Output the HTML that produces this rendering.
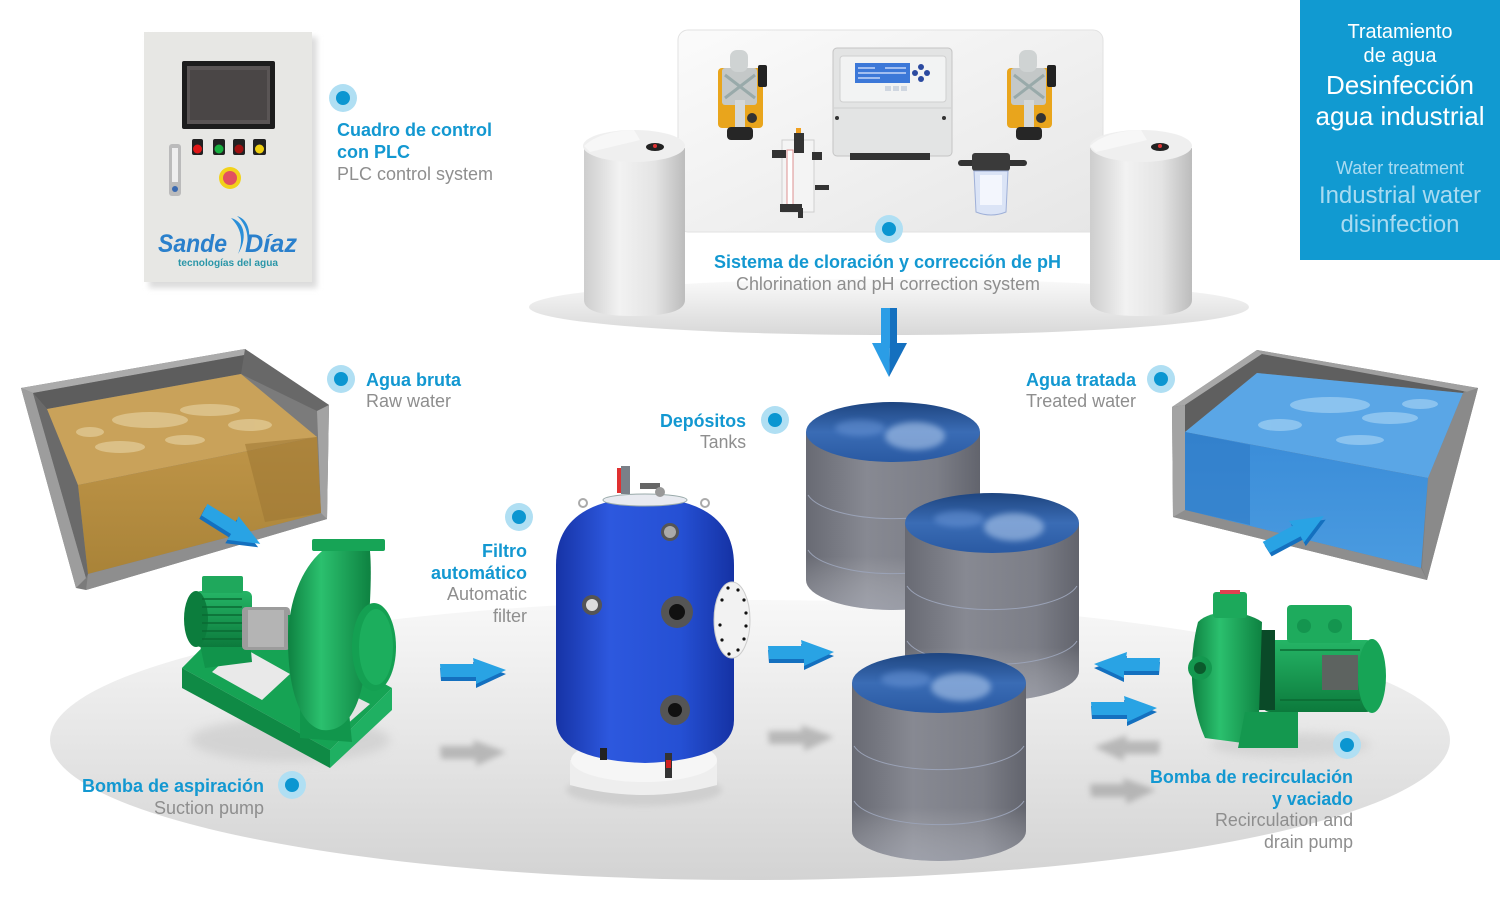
<!DOCTYPE html>
<html><head><meta charset="utf-8"><style>
html,body{margin:0;padding:0;background:#fff;}
svg{display:block;}
text{font-family:"Liberation Sans",Arial,sans-serif;}
.b{font-weight:bold;fill:#1398d1;font-size:18px;}
.g{fill:#8e8e8e;font-size:18px;}
</style></head><body>
<svg width="1500" height="900" viewBox="0 0 1500 900" xmlns="http://www.w3.org/2000/svg">
<defs>
 <linearGradient id="floor" x1="0" y1="0" x2="0" y2="1">
  <stop offset="0" stop-color="#f8f8f8"/><stop offset="0.5" stop-color="#e6e6e6"/><stop offset="1" stop-color="#d3d3d3"/>
 </linearGradient>
 <linearGradient id="fl2" x1="0" y1="0" x2="0" y2="1">
  <stop offset="0" stop-color="#fafafa"/><stop offset="1" stop-color="#d8d8d8"/>
 </linearGradient>
 <linearGradient id="panelG" x1="0" y1="0" x2="1" y2="1">
  <stop offset="0" stop-color="#fbfbfb"/><stop offset="1" stop-color="#e6e6e6"/>
 </linearGradient>
 <linearGradient id="chem" x1="0" y1="0" x2="1" y2="0">
  <stop offset="0" stop-color="#cdcdcd"/><stop offset="0.35" stop-color="#f2f2f2"/><stop offset="0.7" stop-color="#e4e4e4"/><stop offset="1" stop-color="#bcbcbc"/>
 </linearGradient>
 <linearGradient id="tankB" x1="0" y1="0" x2="1" y2="0">
  <stop offset="0" stop-color="#686a73"/><stop offset="0.35" stop-color="#878992"/><stop offset="0.75" stop-color="#7c7e87"/><stop offset="1" stop-color="#62646d"/>
 </linearGradient>
 <linearGradient id="tankV" x1="0" y1="0" x2="0" y2="1">
  <stop offset="0" stop-color="#000" stop-opacity="0"/><stop offset="0.7" stop-color="#fff" stop-opacity="0"/><stop offset="1" stop-color="#c8ccd8" stop-opacity="0.35"/>
 </linearGradient>
 <linearGradient id="wTop" x1="0" y1="0" x2="0" y2="1">
  <stop offset="0" stop-color="#1e4580"/><stop offset="0.5" stop-color="#3a6cb5"/><stop offset="1" stop-color="#2a5aa3"/>
 </linearGradient>
 <linearGradient id="filt" x1="0" y1="0" x2="1" y2="0">
  <stop offset="0" stop-color="#1633a6"/><stop offset="0.3" stop-color="#2d58de"/><stop offset="0.7" stop-color="#2550d4"/><stop offset="1" stop-color="#1532a4"/>
 </linearGradient>
 <linearGradient id="grn" x1="0" y1="0" x2="0" y2="1">
  <stop offset="0" stop-color="#25b566"/><stop offset="1" stop-color="#0c7a3c"/>
 </linearGradient>
 <linearGradient id="grnH" x1="0" y1="0" x2="1" y2="0">
  <stop offset="0" stop-color="#0e8241"/><stop offset="0.4" stop-color="#2bc06e"/><stop offset="1" stop-color="#0e8241"/>
 </linearGradient>
 <linearGradient id="raw" x1="0" y1="0" x2="0" y2="1">
  <stop offset="0" stop-color="#bf9548"/><stop offset="1" stop-color="#a98338"/>
 </linearGradient>
 <linearGradient id="blueW" x1="0" y1="0" x2="0" y2="1">
  <stop offset="0" stop-color="#3a8cd8"/><stop offset="1" stop-color="#4a9be0"/>
 </linearGradient>
 <filter id="bl" x="-30%" y="-60%" width="160%" height="220%"><feGaussianBlur stdDeviation="3"/></filter>
 <filter id="bl2" x="-30%" y="-60%" width="160%" height="220%"><feGaussianBlur stdDeviation="5"/></filter>
 <g id="ar">
  <path d="M0,9 L34,9 L33,3 L66,15 L36,29 L36,22 L1,22 Z" fill="#1470bf"/>
  <path d="M0,5 L34,5 L33,-1 L66,11 L36,25 L36,18 L1,18 Z" fill="#29a3e4"/>
 </g>
 <g id="arS">
  <path d="M0,5 L34,5 L33,-1 L66,11 L36,25 L36,18 L1,18 Z" fill="#9a9a9a"/>
 </g>
</defs>

<rect width="1500" height="900" fill="#fff"/>

<!-- main floor -->
<ellipse cx="750" cy="740" rx="700" ry="140" fill="url(#floor)"/>

<!-- top-right blue box -->
<rect x="1300" y="0" width="200" height="260" fill="#119ad1"/>
<g text-anchor="middle" fill="#fff">
 <text x="1400" y="38" font-size="20" textLength="105">Tratamiento</text>
 <text x="1400" y="62" font-size="20" textLength="73">de agua</text>
 <text x="1400" y="94" font-size="26" textLength="148">Desinfección</text>
 <text x="1400" y="125" font-size="26" textLength="169">agua industrial</text>
 <text x="1400" y="174" font-size="18" fill="#a9dbf1" textLength="128">Water treatment</text>
 <text x="1400" y="203" font-size="24" fill="#a9dbf1" textLength="162">Industrial water</text>
 <text x="1400" y="232" font-size="24" fill="#a9dbf1" textLength="119">disinfection</text>
</g>

<!-- control panel -->
<rect x="149" y="37" width="168" height="251" fill="#dcdcdc" filter="url(#bl)"/>
<rect x="144" y="32" width="168" height="250" fill="#e7e7e4"/>
<rect x="182" y="61" width="93" height="68" fill="#1d1d1d" rx="2"/>
<rect x="187" y="66" width="83" height="58" fill="#5a5555"/>
<rect x="190" y="70" width="77" height="50" fill="#4a4646"/>
<g>
 <rect x="192" y="139" width="11" height="16" fill="#222" rx="2"/><circle cx="197.5" cy="149" r="4.5" fill="#e01818"/>
 <rect x="213" y="139" width="12" height="16" fill="#222" rx="2"/><circle cx="219" cy="149" r="4.5" fill="#18b040"/>
 <rect x="233" y="139" width="12" height="16" fill="#222" rx="2"/><circle cx="239" cy="149" r="4.5" fill="#a01010"/>
 <rect x="253" y="139" width="13" height="16" fill="#222" rx="2"/><circle cx="259.5" cy="149" r="4.5" fill="#f0d010"/>
</g>
<rect x="169" y="144" width="12" height="52" fill="#bbb" rx="3"/>
<rect x="172" y="148" width="6" height="34" fill="#eee"/>
<circle cx="175" cy="189" r="3" fill="#3a6ab0"/>
<circle cx="230" cy="178" r="11" fill="#f2d21a"/>
<circle cx="230" cy="178" r="7" fill="#e25060"/>
<path d="M231,218 C246,222 247,240 238,254 C244,240 241,228 231,218Z" fill="#2a8fd8"/>
<path d="M237,216 C250,220 252,236 246,250 C250,236 246,224 237,216Z" fill="#2a8fd8"/>
<text x="158" y="252" font-size="25" font-weight="bold" font-style="italic" fill="#2a80cc" textLength="69" lengthAdjust="spacingAndGlyphs">Sande</text>
<text x="245" y="252" font-size="25" font-weight="bold" font-style="italic" fill="#2a80cc" textLength="52" lengthAdjust="spacingAndGlyphs">Díaz</text>
<text x="178" y="266" font-size="10" font-weight="bold" fill="#2a96a8" textLength="100" lengthAdjust="spacingAndGlyphs">tecnologías del agua</text>

<!-- control label -->
<circle cx="343" cy="98" r="14" fill="#b0dff3"/><circle cx="343" cy="98" r="7" fill="#0b96d1"/>
<text class="b" x="337" y="136" textLength="155" lengthAdjust="spacingAndGlyphs">Cuadro de control</text>
<text class="b" x="337" y="158" textLength="73" lengthAdjust="spacingAndGlyphs">con PLC</text>
<text class="g" x="337" y="180" textLength="156" lengthAdjust="spacingAndGlyphs">PLC control system</text>

<!-- chlorination area -->
<ellipse cx="889" cy="307" rx="360" ry="28" fill="url(#fl2)"/>
<rect x="678" y="30" width="425" height="202" rx="10" fill="url(#panelG)" stroke="#e2e2e2"/>

<!-- left chem tank -->
<path d="M584,148 L584,300 Q584,316 634,316 Q685,316 685,300 L685,148 Z" fill="url(#chem)"/>
<ellipse cx="634" cy="146" rx="51" ry="16" fill="#efefef"/>
<path d="M584,146 Q600,131 634,130 L640,140 L590,152 Z" fill="#f7f7f7"/>
<ellipse cx="655" cy="147" rx="9" ry="4" fill="#222"/><circle cx="655" cy="146" r="2" fill="#d33"/>
<!-- right chem tank -->
<path d="M1090,148 L1090,300 Q1090,316 1141,316 Q1192,316 1192,300 L1192,148 Z" fill="url(#chem)"/>
<ellipse cx="1141" cy="146" rx="51" ry="16" fill="#efefef"/>
<path d="M1090,146 Q1106,131 1141,130 L1147,140 L1096,152 Z" fill="#f7f7f7"/>
<ellipse cx="1160" cy="147" rx="9" ry="4" fill="#222"/><circle cx="1160" cy="146" r="2" fill="#d33"/>

<!-- dosing pumps -->
<g id="dp">
 <rect x="718" y="68" width="45" height="60" rx="4" fill="#e9a51c"/>
 <rect x="722" y="68" width="35" height="37" rx="3" fill="#c4c8c8"/>
 <rect x="730" y="50" width="18" height="22" rx="7" fill="#cfd3d3"/>
 <path d="M725,75 L755,98 M755,75 L725,98" stroke="#9aa" stroke-width="3"/>
 <rect x="758" y="65" width="9" height="22" rx="2" fill="#222"/>
 <rect x="735" y="100" width="10" height="30" fill="#d5d8d8"/>
 <rect x="727" y="127" width="26" height="13" rx="4" fill="#262626"/>
 <circle cx="752" cy="118" r="5" fill="#333"/>
</g>
<use href="#dp" transform="translate(289,0)"/>

<!-- controller -->
<rect x="833" y="48" width="119" height="108" rx="4" fill="#e3e4e4" stroke="#c4c4c4"/>
<rect x="840" y="56" width="106" height="46" rx="3" fill="#f2f3f3" stroke="#cfcfcf"/>
<rect x="855" y="63" width="55" height="20" fill="#3c78d8"/>
<g stroke="#dfe8ff" stroke-width="1.2"><line x1="858" y1="68" x2="875" y2="68"/><line x1="885" y1="68" x2="906" y2="68"/><line x1="858" y1="73" x2="906" y2="73"/><line x1="858" y1="78" x2="880" y2="78"/></g>
<g fill="#2b4aa0"><circle cx="921" cy="67" r="3"/><circle cx="915" cy="73" r="3"/><circle cx="927" cy="73" r="3"/><circle cx="921" cy="79" r="3"/></g>
<rect x="885" y="86" width="6" height="5" fill="#cfd6e0"/><rect x="893" y="86" width="6" height="5" fill="#cfd6e0"/><rect x="901" y="86" width="6" height="5" fill="#cfd6e0"/>
<line x1="834" y1="108" x2="951" y2="108" stroke="#cfcfcf"/>
<circle cx="837" cy="118" r="2" fill="#333"/><circle cx="944" cy="118" r="2" fill="#333"/>
<rect x="850" y="153" width="80" height="7" fill="#333"/>

<!-- rotameter -->
<rect x="782" y="140" width="32" height="72" fill="#f4f4f4" stroke="#cfcfcf"/>
<rect x="787" y="150" width="6" height="55" fill="#fff" stroke="#dd9090" stroke-width="1"/>
<rect x="796" y="128" width="5" height="6" fill="#f0a020"/>
<rect x="794" y="133" width="10" height="20" fill="#333"/>
<rect x="772" y="150" width="14" height="8" fill="#333"/>
<rect x="812" y="152" width="10" height="8" fill="#333"/>
<rect x="815" y="185" width="14" height="5" fill="#333"/>
<rect x="780" y="204" width="22" height="8" fill="#333"/>
<rect x="798" y="208" width="5" height="10" fill="#333"/>

<!-- cartridge filter -->
<rect x="958" y="160" width="69" height="6" rx="3" fill="#333"/>
<rect x="972" y="153" width="38" height="18" rx="3" fill="#3a3a3a"/>
<path d="M974,171 L1008,171 L1006,212 Q991,218 976,212 Z" fill="#dbe4f6" stroke="#9fb0d8"/>
<rect x="980" y="175" width="22" height="30" fill="#f3f6fd"/>

<!-- chlor label -->
<circle cx="889" cy="229" r="14" fill="#b0dff3"/><circle cx="889" cy="229" r="7" fill="#0b96d1"/>
<text class="b" x="714" y="268" textLength="347" lengthAdjust="spacingAndGlyphs">Sistema de cloración y corrección de pH</text>
<text class="g" x="736" y="290" textLength="304" lengthAdjust="spacingAndGlyphs">Chlorination and pH correction system</text>

<!-- down arrow -->
<rect x="881" y="308" width="9" height="40" fill="#2b9de6"/>
<rect x="890" y="308" width="7" height="40" fill="#1470bf"/>
<path d="M872,343 L890,343 L889,377 Z" fill="#2b9de6"/>
<path d="M890,343 L907,343 L889,377 Z" fill="#1470bf"/>

<!-- RAW BASIN -->
<polygon points="21,388 245,349 329,405 327,519 86,590 76,588" fill="#7b7b7b"/>
<polygon points="21,388 245,349 250,354 33,393" fill="#ababab"/>
<polygon points="33,393 250,354 241,374 47,409" fill="#5d5d5d"/>
<polygon points="245,349 329,405 317,411 241,374" fill="#686868"/>
<polygon points="317,411 329,405 327,519 321,514" fill="#a3a3a3"/>
<polygon points="21,388 33,393 86,578 76,588" fill="#9d9d9d"/>
<polygon points="33,393 47,409 78,485 88,574 86,578" fill="#6a6a6a"/>
<polygon points="47,409 241,374 317,437 78,485" fill="#c9a25a"/>
<g fill="#e2cb96" opacity="0.75">
 <ellipse cx="150" cy="420" rx="38" ry="8"/><ellipse cx="210" cy="410" rx="30" ry="6"/><ellipse cx="120" cy="447" rx="25" ry="6"/>
 <ellipse cx="250" cy="425" rx="22" ry="6"/><ellipse cx="185" cy="440" rx="20" ry="5"/><ellipse cx="90" cy="432" rx="14" ry="5"/>
</g>
<polygon points="78,485 317,437 321,513 88,574" fill="url(#raw)"/>
<polygon points="245,444 317,437 321,513 265,522" fill="#9c7733" opacity="0.55"/>
<polygon points="88,574 321,513 327,519 86,590" fill="#8e8e8e"/>
<use href="#ar" transform="translate(208,503) rotate(32) translate(0,-4)"/>

<!-- TREATED BASIN -->
<polygon points="1172,407 1257,350 1478,388 1427,580 1173,517" fill="#7d7d7d"/>
<polygon points="1172,407 1257,350 1262,354 1185,405" fill="#a8a8a8"/>
<polygon points="1185,405 1262,354 1465,389 1463,393 1257,373 1185,432" fill="#5f5f5f"/>
<polygon points="1257,350 1478,388 1468,392 1262,354" fill="#a0a0a0"/>
<polygon points="1172,407 1185,405 1185,512 1173,517" fill="#a3a3a3"/>
<polygon points="1463,393 1478,388 1427,580 1422,568 1428,478" fill="#8a8a8a"/>
<polygon points="1185,432 1257,373 1463,393 1428,478" fill="#5aa6e6"/>
<g fill="#9ccdf2" opacity="0.75">
 <ellipse cx="1330" cy="405" rx="40" ry="8"/><ellipse cx="1390" cy="418" rx="28" ry="6"/><ellipse cx="1280" cy="425" rx="22" ry="6"/>
 <ellipse cx="1420" cy="404" rx="18" ry="5"/><ellipse cx="1360" cy="440" rx="24" ry="5"/>
</g>
<polygon points="1185,432 1428,478 1421,568 1185,510" fill="url(#blueW)"/>
<polygon points="1185,432 1250,445 1250,525 1185,510" fill="#2f7ac4" opacity="0.6"/>
<polygon points="1185,510 1421,568 1427,580 1173,517" fill="#8e8e8e"/>
<use href="#ar" transform="translate(1266,548) rotate(-28) translate(0,-12)"/>

<!-- labels basins -->
<circle cx="341" cy="379" r="14" fill="#b0dff3"/><circle cx="341" cy="379" r="7" fill="#0b96d1"/>
<text class="b" x="366" y="386" textLength="95" lengthAdjust="spacingAndGlyphs">Agua bruta</text>
<text class="g" x="366" y="407" textLength="85" lengthAdjust="spacingAndGlyphs">Raw water</text>
<circle cx="1161" cy="379" r="14" fill="#b0dff3"/><circle cx="1161" cy="379" r="7" fill="#0b96d1"/>
<text class="b" x="1026" y="386" textLength="110" lengthAdjust="spacingAndGlyphs">Agua tratada</text>
<text class="g" x="1026" y="407" textLength="110" lengthAdjust="spacingAndGlyphs">Treated water</text>

<!-- SUCTION PUMP -->
<ellipse cx="290" cy="740" rx="100" ry="22" fill="#c8c8c8" filter="url(#bl2)" opacity="0.6"/>
<!-- base frame -->
<polygon points="182,668 244,605 392,688 330,750" fill="#16a354"/>
<polygon points="212,672 240,646 290,674 262,700" fill="#e9e9e9"/>
<polygon points="305,705 330,684 370,704 345,726" fill="#e4e4e4"/>
<polygon points="182,668 330,750 330,768 182,688" fill="#0f8a45"/>
<polygon points="330,750 392,688 392,710 330,768" fill="#1fb062"/>
<polygon points="200,645 250,640 252,662 205,668" fill="#11944b"/>
<!-- motor -->
<rect x="195" y="591" width="57" height="56" rx="6" fill="url(#grn)"/>
<ellipse cx="196" cy="619" rx="12" ry="28" fill="#0c7d3d"/>
<g stroke="#0a6a33" stroke-width="1.5"><line x1="202" y1="599" x2="242" y2="599"/><line x1="202" y1="607" x2="242" y2="607"/><line x1="202" y1="615" x2="242" y2="615"/><line x1="202" y1="623" x2="242" y2="623"/><line x1="202" y1="631" x2="242" y2="631"/><line x1="202" y1="639" x2="242" y2="639"/></g>
<rect x="202" y="576" width="41" height="17" rx="2" fill="#1fa85c"/>
<!-- coupling -->
<rect x="242" y="607" width="48" height="43" rx="4" fill="#9c9c9c"/>
<rect x="248" y="610" width="36" height="37" fill="#b4b4b4"/>
<rect x="288" y="615" width="12" height="28" fill="#14984f"/>
<!-- volute -->
<path d="M300,700 L348,702 L352,742 L300,738 Z" fill="#11964c"/>
<path d="M322,551 C300,570 288,605 288,640 C288,690 300,725 322,730 C348,733 362,705 366,660 C370,610 372,575 370,551 Z" fill="url(#grnH)"/>
<rect x="312" y="539" width="73" height="12" rx="2" fill="#17a456"/>
<ellipse cx="374" cy="647" rx="22" ry="44" fill="#14a052"/>
<ellipse cx="376" cy="647" rx="17" ry="38" fill="#1cae5d"/>

<circle cx="292" cy="785" r="14" fill="#b0dff3"/><circle cx="292" cy="785" r="7" fill="#0b96d1"/>
<text class="b" x="82" y="792" textLength="182" lengthAdjust="spacingAndGlyphs">Bomba de aspiración</text>
<text class="g" x="154" y="814" textLength="110" lengthAdjust="spacingAndGlyphs">Suction pump</text>

<!-- arrows filter -->
<use href="#arS" transform="translate(440,741)" filter="url(#bl)" opacity="0.6"/>
<use href="#ar" transform="translate(440,659)"/>

<!-- FILTER -->
<ellipse cx="644" cy="790" rx="78" ry="16" fill="#cfcfcf" filter="url(#bl)"/>
<path d="M570,760 L570,785 Q644,805 717,785 L717,760 Z" fill="#eeeeee"/>
<ellipse cx="644" cy="760" rx="73" ry="22" fill="#f6f6f6"/>
<path d="M556,565 Q556,500 645,497 Q734,500 734,565 L734,720 Q734,760 645,763 Q556,760 556,720 Z" fill="url(#filt)"/>
<ellipse cx="645" cy="500" rx="42" ry="6" fill="#e8eaf0" stroke="#9aa" />
<rect x="617" y="468" width="4" height="25" fill="#e03030"/>
<rect x="621" y="466" width="9" height="28" fill="#7a8088"/>
<rect x="640" y="483" width="20" height="6" fill="#666"/>
<circle cx="660" cy="492" r="5" fill="#999"/>
<circle cx="583" cy="503" r="4" fill="none" stroke="#aaa" stroke-width="2"/>
<circle cx="705" cy="503" r="4" fill="none" stroke="#aaa" stroke-width="2"/>
<circle cx="670" cy="532" r="9" fill="#555"/><circle cx="670" cy="532" r="6" fill="#aaa"/>
<circle cx="592" cy="605" r="10" fill="#555"/><circle cx="592" cy="605" r="6" fill="#ddd"/>
<circle cx="677" cy="612" r="16" fill="#555"/><circle cx="677" cy="612" r="8" fill="#111"/>
<circle cx="675" cy="710" r="15" fill="#555"/><circle cx="675" cy="710" r="7" fill="#111"/>
<ellipse cx="732" cy="620" rx="18" ry="38" fill="#f2f2f2" stroke="#ccc"/>
<g fill="#111">
 <circle cx="738" cy="590" r="1.6"/><circle cx="744" cy="600" r="1.6"/><circle cx="746" cy="613" r="1.6"/><circle cx="746" cy="626" r="1.6"/><circle cx="744" cy="639" r="1.6"/><circle cx="738" cy="650" r="1.6"/><circle cx="729" cy="654" r="1.6"/><circle cx="722" cy="640" r="1.6"/><circle cx="720" cy="625" r="1.6"/><circle cx="722" cy="600" r="1.6"/><circle cx="728" cy="588" r="1.6"/>
</g>
<rect x="600" y="748" width="7" height="12" fill="#222"/>
<rect x="665" y="753" width="7" height="25" fill="#333"/><rect x="666" y="760" width="5" height="8" fill="#d02020"/>

<circle cx="519" cy="517" r="14" fill="#b0dff3"/><circle cx="519" cy="517" r="7" fill="#0b96d1"/>
<text class="b" x="482" y="557" textLength="45" lengthAdjust="spacingAndGlyphs">Filtro</text>
<text class="b" x="431" y="579" textLength="96" lengthAdjust="spacingAndGlyphs">automático</text>
<text class="g" x="447" y="600" textLength="80" lengthAdjust="spacingAndGlyphs">Automatic</text>
<text class="g" x="493" y="622" textLength="34" lengthAdjust="spacingAndGlyphs">filter</text>

<!-- arrows to tanks -->
<use href="#arS" transform="translate(768,726)" filter="url(#bl)" opacity="0.6"/>
<use href="#ar" transform="translate(768,641)"/>

<!-- TANKS -->
<g id="tk1">
 <path d="M806,432 L806,580 A87,30 0 0 0 980,580 L980,432 Z" fill="url(#tankB)"/>
 <path d="M806,432 L806,580 A87,30 0 0 0 980,580 L980,432 Z" fill="url(#tankV)"/>
 <path d="M808,495 A87,30 0 0 0 978,495" fill="none" stroke="#9aa2b6" stroke-width="1"/>
 <path d="M808,550 A87,30 0 0 0 978,550" fill="none" stroke="#9aa2b6" stroke-width="1"/>
 <ellipse cx="893" cy="432" rx="87" ry="30" fill="url(#wTop)"/>
 <ellipse cx="915" cy="436" rx="30" ry="14" fill="#b8d0f0" opacity="0.55" filter="url(#bl)"/>
 <ellipse cx="860" cy="428" rx="25" ry="8" fill="#6d98d8" opacity="0.5" filter="url(#bl)"/>
</g>
<use href="#tk1" transform="translate(99,91)"/>
<use href="#tk1" transform="translate(46,251)"/>

<circle cx="775" cy="420" r="14" fill="#b0dff3"/><circle cx="775" cy="420" r="7" fill="#0b96d1"/>
<text class="b" x="660" y="427" textLength="86" lengthAdjust="spacingAndGlyphs">Depósitos</text>
<text class="g" x="700" y="448" textLength="46" lengthAdjust="spacingAndGlyphs">Tanks</text>

<!-- arrows recirculation -->
<use href="#arS" transform="translate(1160,736) scale(-1,1)" filter="url(#bl)" opacity="0.6"/>
<use href="#arS" transform="translate(1090,779)" filter="url(#bl)" opacity="0.6"/>
<use href="#ar" transform="translate(1160,653) scale(-1,1)"/>
<use href="#ar" transform="translate(1091,697)"/>

<!-- RECIRC PUMP -->
<ellipse cx="1290" cy="745" rx="80" ry="12" fill="#c8c8c8" filter="url(#bl2)" opacity="0.6"/>
<rect x="1262" y="640" width="112" height="72" rx="8" fill="url(#grn)"/>
<g stroke="#0a6a33" stroke-width="1.5"><line x1="1280" y1="650" x2="1360" y2="650"/><line x1="1280" y1="700" x2="1360" y2="700"/></g>
<rect x="1322" y="655" width="36" height="35" fill="#5d6360"/>
<ellipse cx="1372" cy="676" rx="14" ry="37" fill="#17a456"/>
<rect x="1287" y="605" width="65" height="38" rx="4" fill="#1eab5d"/>
<circle cx="1304" cy="626" r="7" fill="#14954f"/><circle cx="1335" cy="626" r="7" fill="#14954f"/>
<rect x="1255" y="630" width="20" height="80" fill="#0a4a28"/>
<path d="M1198,622 C1188,660 1190,705 1205,738 L1258,745 L1262,622 C1245,610 1212,608 1198,622 Z" fill="url(#grnH)"/>
<rect x="1213" y="592" width="34" height="26" rx="3" fill="#1ca95b"/>
<rect x="1220" y="590" width="20" height="4" fill="#e04050"/>
<circle cx="1200" cy="668" r="12" fill="#14984f"/><circle cx="1200" cy="668" r="6" fill="#0b5a2c"/>
<polygon points="1245,712 1298,712 1298,748 1238,748" fill="#14984f"/>

<circle cx="1347" cy="745" r="14" fill="#b0dff3"/><circle cx="1347" cy="745" r="7" fill="#0b96d1"/>
<text class="b" x="1150" y="783" textLength="203" lengthAdjust="spacingAndGlyphs">Bomba de recirculación</text>
<text class="b" x="1272" y="805" textLength="81" lengthAdjust="spacingAndGlyphs">y vaciado</text>
<text class="g" x="1215" y="826" textLength="138" lengthAdjust="spacingAndGlyphs">Recirculation and</text>
<text class="g" x="1264" y="848" textLength="89" lengthAdjust="spacingAndGlyphs">drain pump</text>
</svg>
</body></html>
